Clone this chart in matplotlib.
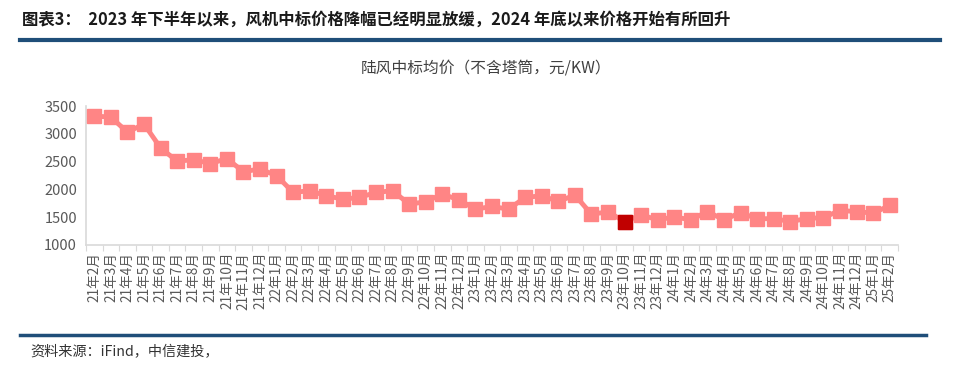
import matplotlib
matplotlib.use("Agg")
import matplotlib.pyplot as plt
from matplotlib.lines import Line2D

plt.rcParams['font.family'] = ['Noto Sans CJK SC', 'DejaVu Sans']

months = ["21年2月", "21年3月", "21年4月", "21年5月", "21年6月", "21年7月", "21年8月", "21年9月",
          "21年10月", "21年11月", "21年12月",
          "22年1月", "22年2月", "22年3月", "22年4月", "22年5月", "22年6月", "22年7月", "22年8月",
          "22年9月", "22年10月", "22年11月", "22年12月",
          "23年1月", "23年2月", "23年3月", "23年4月", "23年5月", "23年6月", "23年7月", "23年8月",
          "23年9月", "23年10月", "23年11月", "23年12月",
          "24年1月", "24年2月", "24年3月", "24年4月", "24年5月", "24年6月", "24年7月", "24年8月",
          "24年9月", "24年10月", "24年11月", "24年12月",
          "25年1月", "25年2月"]
prices = [3320, 3300, 3030, 3175, 2747, 2506, 2536, 2464, 2554, 2319, 2367,
          2247, 1946, 1976, 1886, 1825, 1855, 1946, 1976, 1735, 1777, 1916, 1813,
          1645, 1693, 1645, 1855, 1886, 1783, 1898, 1554, 1596, 1422, 1542, 1452,
          1506, 1452, 1602, 1452, 1584, 1470, 1476, 1422, 1476, 1494, 1620, 1602,
          1572, 1711]
highlight = "23年10月"
y_ticks = [1000, 1500, 2000, 2500, 3000, 3500]

title = "图表3：  2023 年下半年以来，风机中标价格降幅已经明显放缓，2024 年底以来价格开始有所回升"
chart_title = "陆风中标均价（不含塔筒，元/KW）"
source = "资料来源：iFind，中信建投，"

W, H = 960, 372
fig = plt.figure(figsize=(W / 100, H / 100), dpi=100)

def fx(px):
    return px / W

def fy(py):
    return 1 - py / H

ax = fig.add_axes([fx(86), fy(245), fx(898 - 86), (245 - 106) / H])
x = list(range(len(months)))
line_color = "#FF8585"
ax.plot(x, prices, color=line_color, lw=3.5, marker="s", markersize=10,
        markerfacecolor=line_color, markeredgecolor=line_color, zorder=3)
hi = months.index(highlight)
ax.plot([x[hi]], [prices[hi]], marker="s", markersize=10, color="#C00000",
        markeredgecolor="#C00000", linestyle="none", zorder=4)

ax.set_xlim(-0.5, len(months) - 0.5)
ax.set_ylim(y_ticks[0], y_ticks[-1])
ax.set_yticks(y_ticks)
ax.set_yticklabels([str(v) for v in y_ticks])
ax.set_xticks([i - 0.5 for i in range(len(months) + 1)], minor=False)
ax.set_xticklabels([])
ax.set_xticks(x, minor=True)
ax.set_xticklabels(months, minor=True, rotation=90, fontsize=9.8, color="#595959")
ax.tick_params(axis="x", which="major", length=4, color="#D9D9D9", direction="out")
ax.tick_params(axis="x", which="minor", length=0, pad=5)
ax.tick_params(axis="y", length=0, labelsize=10.5, labelcolor="#595959", pad=6.5)
for s in ["top", "right"]:
    ax.spines[s].set_visible(False)
for s in ["left", "bottom"]:
    ax.spines[s].set_color("#D9D9D9")
    ax.spines[s].set_linewidth(1.2)

fig.text(fx(22), fy(20), title, fontsize=11.8, fontweight="bold", color="#1a1a1a",
         va="center", ha="left")
fig.add_artist(Line2D([fx(20), fx(940)], [fy(40), fy(40)], color="#1F4E79", lw=3))
fig.text(fx(486), fy(68), chart_title, fontsize=11.3, color="#404040", va="center", ha="center")
fig.add_artist(Line2D([fx(20), fx(926)], [fy(335), fy(335)], color="#1F4E79", lw=2.5))
fig.text(fx(30), fy(352), source, fontsize=10.2, style="italic", color="#333333",
         va="center", ha="left")

fig.savefig("out.png", dpi=100)
